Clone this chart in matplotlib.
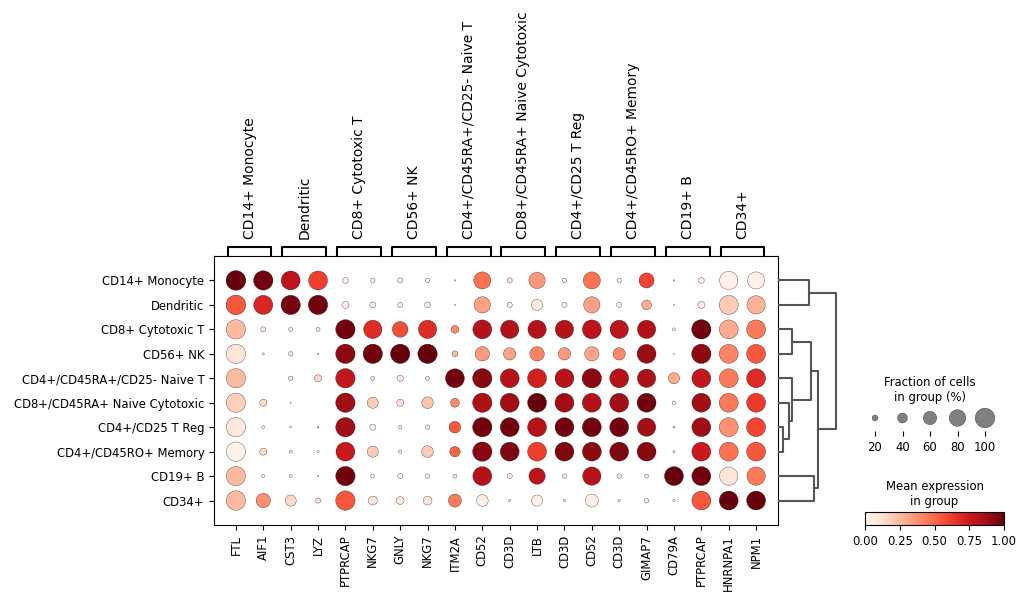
import numpy as np
import matplotlib
matplotlib.use("Agg")
import matplotlib.pyplot as plt

groups = ["CD14+ Monocyte", "Dendritic", "CD8+ Cytotoxic T", "CD56+ NK",
          "CD4+/CD45RA+/CD25- Naive T", "CD8+/CD45RA+ Naive Cytotoxic",
          "CD4+/CD25 T Reg", "CD4+/CD45RO+ Memory", "CD19+ B", "CD34+"]
genes = ["FTL", "AIF1", "CST3", "LYZ", "PTPRCAP", "NKG7", "GNLY", "NKG7",
         "ITM2A", "CD52", "CD3D", "LTB", "CD3D", "CD52", "CD3D", "GIMAP7",
         "CD79A", "PTPRCAP", "HNRNPA1", "NPM1"]
# marker groups: (label, first gene index, last gene index)
gene_groups = [("CD14+ Monocyte", 0, 1), ("Dendritic", 2, 3),
               ("CD8+ Cytotoxic T", 4, 5), ("CD56+ NK", 6, 7),
               ("CD4+/CD45RA+/CD25- Naive T", 8, 9),
               ("CD8+/CD45RA+ Naive Cytotoxic", 10, 11),
               ("CD4+/CD25 T Reg", 12, 13), ("CD4+/CD45RO+ Memory", 14, 15),
               ("CD19+ B", 16, 17), ("CD34+", 18, 19)]

# mean expression in group (scaled 0-1), one row per group
mean_expr = [
    [1.00, 0.97, 0.80, 0.62, 0.05, 0.05, 0.08, 0.05, 0.10, 0.48, 0.10, 0.36, 0.08, 0.47, 0.08, 0.60, 0.20, 0.05, 0.03, 0.03],
    [0.55, 0.70, 0.97, 0.98, 0.07, 0.07, 0.07, 0.07, 0.30, 0.33, 0.08, 0.07, 0.08, 0.33, 0.08, 0.30, 0.20, 0.08, 0.20, 0.28],
    [0.25, 0.10, 0.08, 0.08, 0.98, 0.68, 0.58, 0.68, 0.40, 0.83, 0.83, 0.83, 0.83, 0.80, 0.80, 0.83, 0.05, 0.98, 0.30, 0.45],
    [0.10, 0.05, 0.10, 0.10, 0.92, 0.98, 1.00, 1.00, 0.25, 0.35, 0.33, 0.42, 0.35, 0.32, 0.40, 0.90, 0.10, 0.92, 0.42, 0.55],
    [0.25, 0.00, 0.08, 0.15, 0.78, 0.08, 0.10, 0.08, 0.98, 0.93, 0.82, 0.73, 0.82, 0.92, 0.82, 0.85, 0.30, 0.78, 0.45, 0.68],
    [0.18, 0.15, 0.10, 0.00, 0.88, 0.20, 0.12, 0.22, 0.40, 0.85, 0.88, 1.00, 0.88, 0.83, 0.88, 0.98, 0.05, 0.88, 0.45, 0.63],
    [0.08, 0.05, 0.10, 0.30, 0.88, 0.05, 0.05, 0.05, 0.55, 0.98, 0.98, 0.82, 0.98, 0.98, 0.98, 0.88, 0.10, 0.88, 0.38, 0.60],
    [0.03, 0.15, 0.05, 0.05, 0.75, 0.20, 0.08, 0.20, 0.52, 0.93, 0.95, 0.62, 0.95, 0.92, 0.95, 0.93, 0.10, 0.75, 0.48, 0.55],
    [0.25, 0.05, 0.05, 0.10, 0.98, 0.05, 0.05, 0.05, 0.08, 0.83, 0.08, 0.80, 0.08, 0.82, 0.08, 0.05, 1.00, 0.98, 0.10, 0.45],
    [0.25, 0.38, 0.15, 0.12, 0.55, 0.10, 0.10, 0.10, 0.45, 0.03, 0.05, 0.03, 0.05, 0.03, 0.05, 0.05, 0.05, 0.55, 1.00, 1.00],
]

# fraction of cells in group expressing the gene (%)
frac_pct = [
    [100, 98, 95, 95, 20, 14, 17, 14, 3, 83, 17, 78, 14, 83, 14, 70, 3, 20, 91, 83],
    [100, 96, 98, 98, 26, 20, 17, 20, 2, 78, 17, 47, 17, 78, 17, 40, 2, 26, 96, 91],
    [98, 17, 12, 12, 98, 91, 74, 91, 29, 95, 91, 91, 91, 95, 91, 91, 8, 98, 95, 95],
    [98, 5, 14, 3, 98, 98, 98, 98, 20, 66, 54, 66, 54, 66, 54, 95, 2, 98, 95, 95],
    [98, 0, 14, 26, 98, 12, 23, 12, 95, 98, 95, 95, 95, 98, 95, 91, 47, 95, 95, 95],
    [98, 26, 2, 0, 98, 47, 26, 50, 35, 98, 95, 95, 95, 95, 95, 95, 10, 95, 95, 95],
    [98, 8, 4, 4, 98, 20, 10, 14, 50, 98, 95, 95, 95, 95, 95, 91, 5, 95, 95, 95],
    [98, 26, 8, 6, 95, 47, 10, 50, 43, 98, 95, 95, 95, 95, 95, 95, 5, 95, 95, 95],
    [98, 8, 8, 3, 98, 12, 17, 14, 12, 95, 17, 78, 14, 91, 14, 12, 95, 95, 91, 91],
    [98, 66, 47, 17, 98, 35, 29, 35, 58, 50, 6, 47, 6, 58, 6, 14, 6, 95, 95, 95],
]

# dendrogram of groups: (child a, child b, height); new clusters numbered from 10
dendro_links = [(6, 7, 4), (5, 10, 10), (4, 11, 13), (2, 3, 13), (0, 1, 30),
                (13, 12, 32), (8, 9, 35), (15, 16, 39), (14, 17, 57)]

legend_pct = [20, 40, 60, 80, 100]
cbar_ticks = [0.0, 0.25, 0.5, 0.75, 1.0]

W, H = 1028, 602
fig = plt.figure(figsize=(W / 100, H / 100), dpi=100)


def px_axes(x0, y0, x1, y1):
    # axes from pixel box (top-left origin)
    return fig.add_axes([x0 / W, 1 - y1 / H, (x1 - x0) / W, (y1 - y0) / H])


cmap = plt.get_cmap("Reds")
largest_dot = 200.0

# main dot plot
ax = px_axes(214, 256, 778, 525)
xs, ys, cs, ss = [], [], [], []
for i in range(len(groups)):
    for j in range(len(genes)):
        xs.append(j)
        ys.append(i)
        cs.append(mean_expr[i][j])
        ss.append((frac_pct[i][j] / 100.0) ** 1.5 * largest_dot)
ax.scatter(xs, ys, s=ss, c=cs, cmap=cmap, vmin=0, vmax=1,
           edgecolor="black", linewidth=0.2, zorder=3)
ax.set_xlim(-0.8, 19.8)
ax.set_ylim(10, -1)
ax.set_xticks(range(len(genes)))
ax.set_xticklabels(genes, rotation=90, fontsize="small")
ax.set_yticks(range(len(groups)))
ax.set_yticklabels(groups, fontsize="small")

# gene group brackets
bax = px_axes(214, 247, 778, 256)
bax.set_xlim(ax.get_xlim())
bax.set_ylim(0, 1)
bax.axis("off")
for label, start, end in gene_groups:
    left, right = start - 0.3, end + 0.3
    bax.plot([left, left, right, right], [0, 1, 1, 0], color="black",
             lw=1.5, clip_on=False)
    bax.annotate(label, xy=((left + right) / 2, 1), xytext=(0, 6),
                 textcoords="offset points", rotation=90, ha="center",
                 va="bottom", fontsize=10)

# dendrogram
dax = px_axes(779, 256, 841, 525)
dax.set_ylim(ax.get_ylim())
dax.set_xlim(0, 62)
dax.axis("off")
pos = {i: (0.0, float(i)) for i in range(len(groups))}
for k, (a, b, h) in enumerate(dendro_links):
    ha_, ya = pos[a]
    hb, yb = pos[b]
    dax.plot([ha_, h, h, hb], [ya, ya, yb, yb], color="#555555", lw=1.5,
             clip_on=False)
    pos[len(groups) + k] = (h, (ya + yb) / 2)

# size legend
sax = px_axes(858.5, 405, 1001.5, 431)
sax.scatter(range(len(legend_pct)), [0.5] * len(legend_pct),
            s=[(p / 100.0) ** 1.5 * largest_dot for p in legend_pct],
            color="gray", edgecolor="black", linewidth=0.2, zorder=3)
sax.set_xlim(-0.6, 4.6)
sax.set_ylim(0, 1)
sax.set_yticks([])
sax.set_xticks(range(len(legend_pct)))
sax.set_xticklabels([str(p) for p in legend_pct], fontsize="small")
for sp in sax.spines.values():
    sp.set_visible(False)
sax.set_title("Fraction of cells\nin group (%)", fontsize="small", pad=3)

# colorbar
cax = px_axes(865, 512, 1004, 525)
sm = plt.cm.ScalarMappable(cmap=cmap, norm=plt.Normalize(0, 1))
cb = fig.colorbar(sm, cax=cax, orientation="horizontal", ticks=cbar_ticks)
cb.ax.set_xticklabels(["%.2f" % t for t in cbar_ticks], fontsize="small")
cax.set_title("Mean expression\nin group", fontsize="small", pad=5)

fig.savefig("out.png", dpi=100)
